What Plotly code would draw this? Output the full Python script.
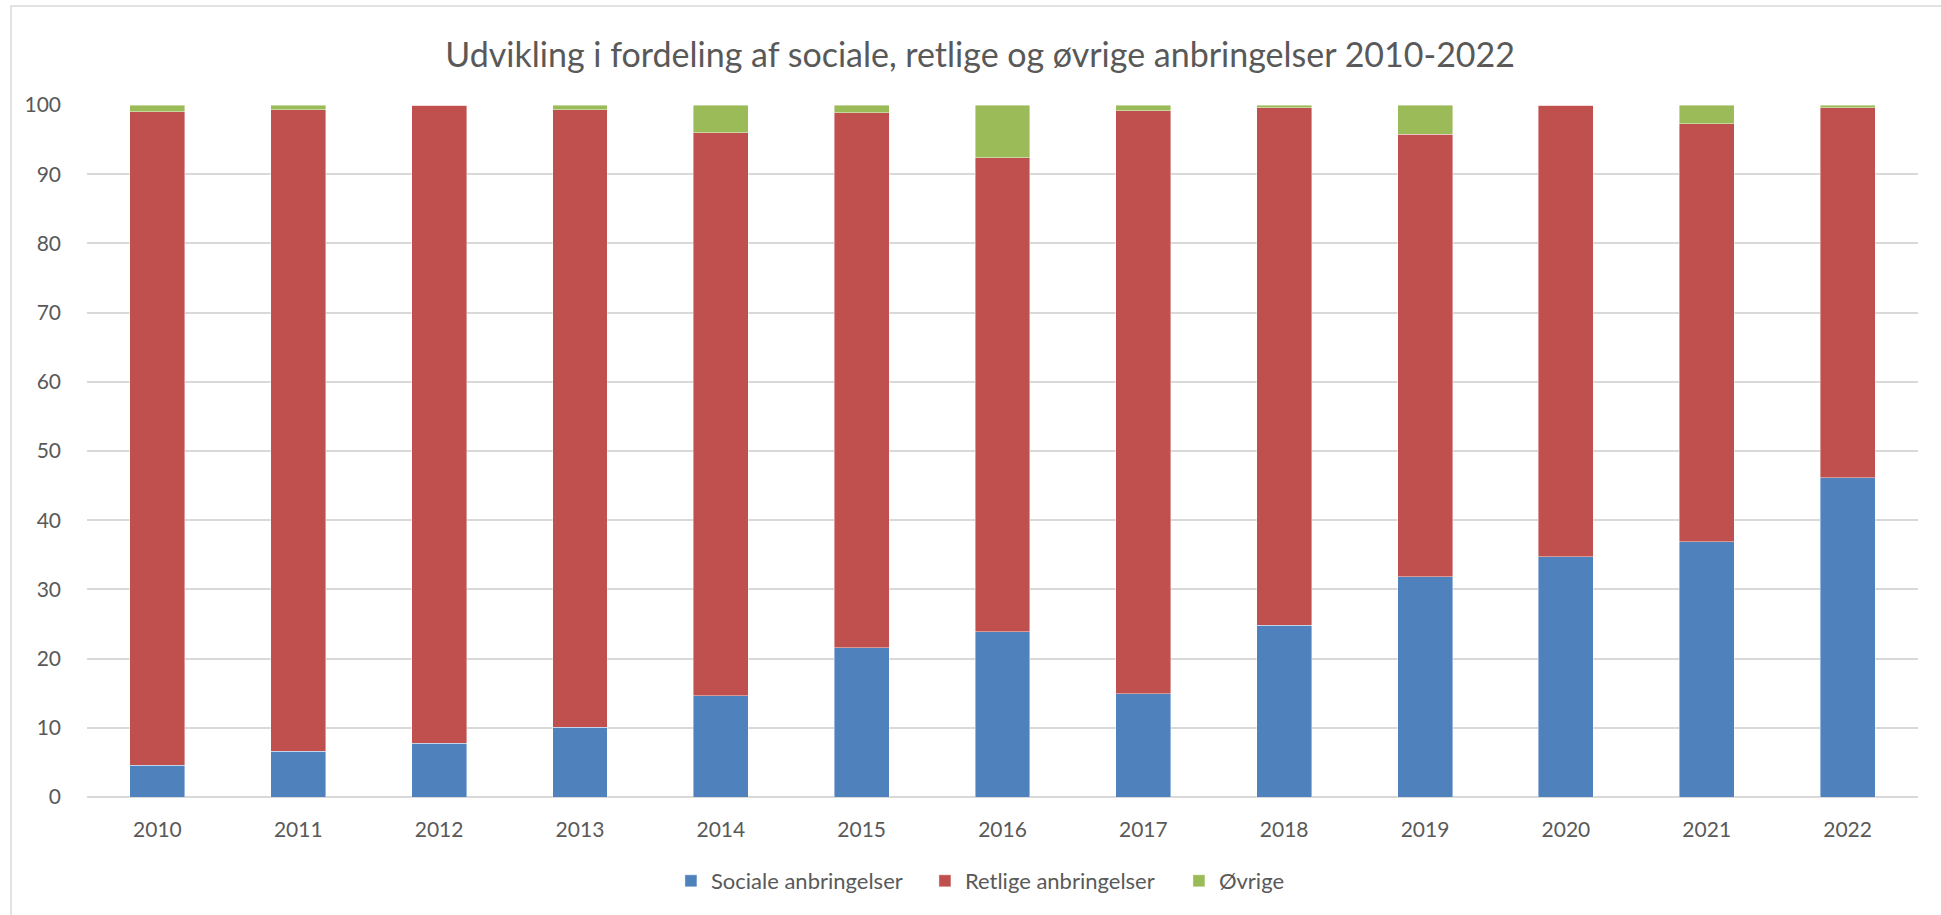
import plotly.graph_objects as go

years = ["2010", "2011", "2012", "2013", "2014", "2015", "2016",
         "2017", "2018", "2019", "2020", "2021", "2022"]
sociale = [4.6, 6.6, 7.8, 10.1, 14.6, 21.6, 23.9, 14.9, 24.8, 31.8, 34.7, 36.9, 46.1]
retlige = [94.4, 92.7, 92.2, 89.2, 81.4, 77.3, 68.5, 84.3, 74.8, 64.0, 65.3, 60.4, 53.5]
oevrige = [1.0, 0.7, 0.0, 0.7, 4.0, 1.1, 7.6, 0.8, 0.4, 4.2, 0.0, 2.7, 0.4]

series = [
    ("Sociale anbringelser", sociale, "#4F81BD"),
    ("Retlige anbringelser", retlige, "#C0504D"),
    ("Øvrige", oevrige, "#9BBB59"),
]

FONT = "Lato, 'Open Sans', sans-serif"
TXT = "#595959"

fig = go.Figure()
for name, vals, col in series:
    fig.add_trace(go.Bar(
        x=years, y=vals, name=name,
        marker=dict(color=col, line=dict(color="rgba(255,255,255,0.6)", width=0.7)),
    ))

W, H = 1941, 915
L, R, T, B = 87, 23, 105, 118
pw = W - L - R
ph = H - T - B

def px_x(px):
    return (px - L) / pw

def px_y(py):
    return (H - B - py) / ph

fig.update_layout(
    width=W, height=H,
    barmode="stack",
    bargap=0.61,
    margin=dict(l=L, r=R, t=T, b=B),
    paper_bgcolor="white",
    plot_bgcolor="white",
    font=dict(family=FONT, color=TXT, size=21),
    title=dict(
        text="Udvikling i fordeling af sociale, retlige og øvrige anbringelser 2010-2022",
        x=0.505, xanchor="center", y=1 - 55 / H, yanchor="middle",
        font=dict(family=FONT, size=34, color=TXT),
    ),
    legend=dict(
        orientation="h", x=0.527, xanchor="center",
        y=px_y(881), yanchor="middle",
        font=dict(family=FONT, size=22, color=TXT),
        itemwidth=30, traceorder="normal",
        entrywidth=209, entrywidthmode="pixels",
    ),
    xaxis=dict(
        showgrid=False, showline=False, ticks="",
        tickfont=dict(family=FONT, size=21, color=TXT),
        ticklabelstandoff=18,
    ),
    yaxis=dict(
        range=[0, 100], dtick=10, showgrid=True,
        gridcolor="#D9D9D9", gridwidth=1.5,
        zeroline=True, zerolinecolor="#D9D9D9", zerolinewidth=1.5,
        showline=False, ticks="",
        tickfont=dict(family=FONT, size=21, color=TXT),
        ticklabelstandoff=25,
    ),
    shapes=[dict(
        type="rect", xref="paper", yref="paper",
        x0=px_x(11), x1=px_x(W + 10), y0=px_y(H + 10), y1=px_y(6),
        line=dict(color="#D9D9D9", width=1.5), fillcolor="rgba(0,0,0,0)",
        layer="below",
    )],
)

fig.write_html("out.html", config={"displayModeBar": False},
               post_script="document.body.style.margin='0';")
